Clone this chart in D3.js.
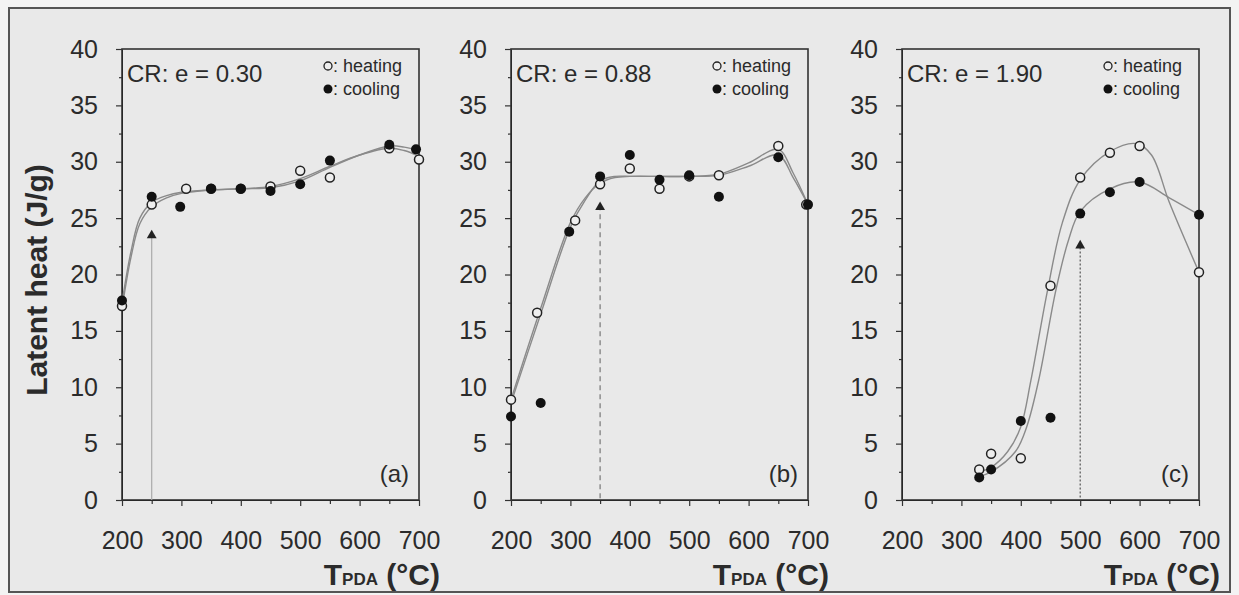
<!DOCTYPE html>
<html lang="en">

<head>
  <meta charset="UTF-8">
  <title>Latent heat vs TPDA</title>
  <script src="https://d3js.org/d3.v7.min.js"></script>
  <style>
    body { margin: 0; background: #f3f3f3; }
    text { font-family: Arial, "Liberation Sans", sans-serif; fill: #2b2b2b; }
  </style>
</head>

<body>
  <div id="chart"></div>

  <script>
    // tick values
    const xTicks = [200, 300, 400, 500, 600, 700];
    const xMinor = [250, 350, 450, 550, 650];
    const yTicks = [0, 5, 10, 15, 20, 25, 30, 35, 40];
    const yMinor = [2.5, 7.5, 12.5, 17.5, 22.5, 27.5, 32.5, 37.5];

    const panelTags = ["(a)", "(b)", "(c)"];
    const crLabels = ["CR: e = 0.30", "CR: e = 0.88", "CR: e = 1.90"];

    // measured points [T, latent heat]
    const heatA = [[200, 17.2], [250, 26.2], [308, 27.6], [350, 27.6], [400, 27.6], [450, 27.8], [500, 29.2], [550, 28.6], [650, 31.2], [700, 30.2]];
    const coolA = [[200, 17.7], [250, 26.9], [298, 26.0], [350, 27.6], [400, 27.6], [450, 27.4], [500, 28.0], [550, 30.1], [650, 31.5], [695, 31.1]];
    const heatB = [[200, 8.9], [244, 16.6], [308, 24.8], [350, 28.0], [400, 29.4], [450, 27.6], [500, 28.7], [550, 28.8], [650, 31.4], [697, 26.2]];
    const coolB = [[200, 7.4], [250, 8.6], [298, 23.8], [350, 28.7], [400, 30.6], [450, 28.4], [500, 28.8], [550, 26.9], [650, 30.4], [700, 26.2]];
    const heatC = [[330, 2.7], [350, 4.1], [400, 3.7], [450, 19.0], [500, 28.6], [550, 30.8], [600, 31.4], [700, 20.2]];
    const coolC = [[330, 2.0], [350, 2.7], [400, 7.0], [450, 7.3], [500, 25.4], [550, 27.3], [600, 28.2], [700, 25.3]];

    // fitted curves
    const fitHeatA = [[200, 17.0], [215, 21.5], [230, 24.5], [250, 26.0], [275, 26.8], [300, 27.2], [350, 27.5], [400, 27.6], [450, 27.8], [500, 28.5], [550, 29.6], [600, 30.6], [650, 31.2], [675, 31.0], [700, 30.5]];
    const fitCoolA = [[200, 17.5], [215, 22.0], [230, 25.0], [250, 26.4], [275, 27.0], [300, 27.3], [350, 27.5], [400, 27.6], [450, 27.7], [500, 28.3], [550, 29.5], [600, 30.6], [650, 31.4], [675, 31.3], [700, 31.0]];
    const fitHeatB = [[200, 8.9], [250, 17.0], [300, 24.6], [325, 26.8], [350, 28.1], [375, 28.6], [400, 28.7], [450, 28.7], [500, 28.7], [550, 28.9], [600, 29.9], [650, 31.1], [675, 29.0], [700, 26.2]];
    const fitCoolB = [[200, 8.6], [250, 16.5], [300, 24.2], [325, 26.6], [350, 28.3], [375, 28.7], [400, 28.7], [450, 28.7], [500, 28.7], [550, 28.8], [600, 29.6], [650, 30.6], [675, 28.6], [700, 26.2]];
    const fitHeatC = [[330, 2.5], [350, 2.9], [378, 4.3], [400, 6.5], [417, 10.6], [445, 18.6], [470, 24.6], [500, 28.4], [550, 30.9], [595, 31.6], [620, 30.6], [650, 26.4], [700, 20.2]];
    const fitCoolC = [[330, 2.1], [350, 2.5], [391, 4.3], [410, 6.5], [430, 10.6], [459, 18.6], [480, 23.0], [500, 25.6], [550, 27.6], [600, 28.2], [650, 26.8], [700, 25.3]];

    // onset arrows
    const arrowT = [250, 350, 500];
    const arrowV = [24.0, 26.5, 23.1];

    const heating = [heatA, heatB, heatC];
    const cooling = [coolA, coolB, coolC];
    const fitHeat = [fitHeatA, fitHeatB, fitHeatC];
    const fitCool = [fitCoolA, fitCoolB, fitCoolC];

    const W = 1239, H = 595;
    const lefts = [122, 511, 902];
    const plotW = 297, plotTop = 49, plotBottom = 500;
    const plotH = plotBottom - plotTop;
    const guideDash = [null, "5,4", "2,2"];
    const guideColor = ["#aaa", "#777", "#555"];

    const svg = d3.select("#chart").append("svg")
      .attr("width", W).attr("height", H);

    svg.append("rect")
      .attr("x", 9).attr("y", 8).attr("width", 1221).attr("height", 584)
      .attr("fill", "#e9e9e9").attr("stroke", "#555").attr("stroke-width", 2);

    const y = d3.scaleLinear().domain([0, 40]).range([plotH, 0]);
    const x = d3.scaleLinear().domain([200, 700]).range([0, plotW]);

    const line = d3.line()
      .x(d => x(d[0]))
      .y(d => y(d[1]))
      .curve(d3.curveCatmullRom.alpha(0.5));

    lefts.forEach((left, i) => {
      const g = svg.append("g").attr("transform", `translate(${left},${plotTop})`);

      // minor ticks
      g.append("g").call(d3.axisLeft(y).tickValues(yMinor).tickSize(3).tickFormat(""))
        .call(a => a.select(".domain").remove());
      g.append("g").attr("transform", `translate(0,${plotH})`)
        .call(d3.axisBottom(x).tickValues(xMinor).tickSize(4).tickFormat(""))
        .call(a => a.select(".domain").remove());

      const ya = g.append("g")
        .call(d3.axisLeft(y).tickValues(yTicks).tickSize(6).tickPadding(18).tickSizeOuter(0));
      ya.selectAll("text").style("font-size", "25px").attr("fill", "#333");

      const xa = g.append("g").attr("transform", `translate(0,${plotH})`)
        .call(d3.axisBottom(x).tickValues(xTicks).tickSize(6).tickPadding(25).tickSizeOuter(0));
      xa.selectAll("text").style("font-size", "25px").attr("fill", "#333");

      g.selectAll(".tick line").attr("stroke", "#333").attr("stroke-width", 1.2);

      // frame
      g.append("rect")
        .attr("width", plotW).attr("height", plotH)
        .attr("fill", "none").attr("stroke", "#333").attr("stroke-width", 1.6);

      // onset guide + arrow
      g.append("line")
        .attr("x1", x(arrowT[i])).attr("x2", x(arrowT[i]))
        .attr("y1", y(arrowV[i]) + 4).attr("y2", y(0))
        .attr("stroke", guideColor[i]).attr("stroke-width", 1.2)
        .attr("stroke-dasharray", guideDash[i]);
      g.append("path")
        .attr("d", d3.symbol(d3.symbolTriangle, 42)())
        .attr("transform", `translate(${x(arrowT[i])},${y(arrowV[i]) + 6})`)
        .attr("fill", "#222");

      // fitted curves
      [fitHeat[i], fitCool[i]].forEach(f => {
        g.append("path").datum(f)
          .attr("d", line)
          .attr("fill", "none")
          .attr("stroke", "#8a8a8a")
          .attr("stroke-width", 1.4);
      });

      g.selectAll(".heat").data(heating[i]).enter().append("circle")
        .attr("class", "heat")
        .attr("cx", d => x(d[0])).attr("cy", d => y(d[1])).attr("r", 4.5)
        .attr("fill", "#eeeeee").attr("stroke", "#222").attr("stroke-width", 1.5);

      g.selectAll(".cool").data(cooling[i]).enter().append("circle")
        .attr("class", "cool")
        .attr("cx", d => x(d[0])).attr("cy", d => y(d[1])).attr("r", 5)
        .attr("fill", "#111");

      // labels
      g.append("text")
        .attr("x", 5).attr("y", 82 - plotTop)
        .style("font-size", "24px")
        .text(crLabels[i]);

      g.append("text")
        .attr("x", plotW - 10).attr("y", 482 - plotTop)
        .attr("text-anchor", "end")
        .style("font-size", "24px")
        .text(panelTags[i]);

      // legend
      g.append("circle")
        .attr("cx", plotW - 91).attr("cy", 66 - plotTop).attr("r", 4)
        .attr("fill", "#eeeeee").attr("stroke", "#222").attr("stroke-width", 1.3);
      g.append("text")
        .attr("x", plotW - 86).attr("y", 72 - plotTop)
        .style("font-size", "18px")
        .text(": heating");
      g.append("circle")
        .attr("cx", plotW - 91).attr("cy", 89 - plotTop).attr("r", 4.5)
        .attr("fill", "#111");
      g.append("text")
        .attr("x", plotW - 86).attr("y", 95 - plotTop)
        .style("font-size", "18px")
        .text(": cooling");

      // x axis title
      const xt = svg.append("text")
        .attr("x", left + plotW + 21).attr("y", 585)
        .attr("text-anchor", "end")
        .style("font-weight", "bold")
        .style("font-size", "30px");
      xt.append("tspan").text("T");
      xt.append("tspan").style("font-size", "17px").text("PDA");
      xt.append("tspan").text(" (°C)");
    });

    svg.append("text")
      .attr("transform", "translate(47,280) rotate(-90)")
      .attr("text-anchor", "middle")
      .style("font-weight", "bold")
      .style("font-size", "30px")
      .text("Latent heat (J/g)");
  </script>
</body>

</html>
